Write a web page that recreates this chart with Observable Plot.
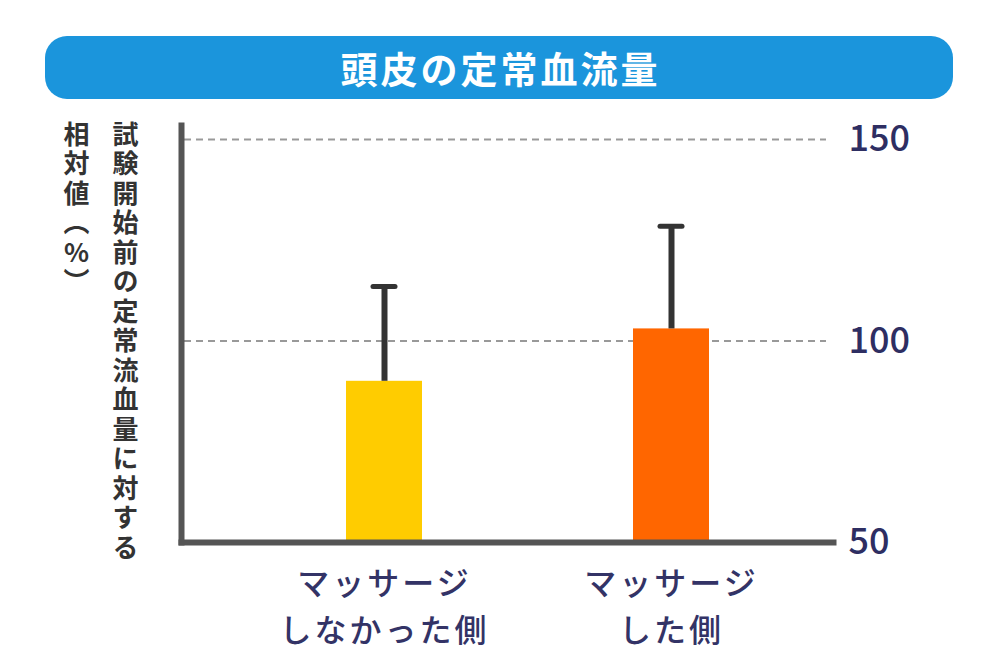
<!DOCTYPE html>
<html><head><meta charset="utf-8">
<script src="https://cdn.jsdelivr.net/npm/d3@7"></script>
<script src="https://cdn.jsdelivr.net/npm/@observablehq/plot@0.6"></script>
<style>
body{margin:0;background:#fff;}
#wrap{position:relative;width:1000px;height:667px;overflow:hidden;font-family:"Noto Sans CJK JP",sans-serif;}
#wrap svg{position:absolute;left:0;top:0;}
#title{position:absolute;left:45px;top:36px;width:908px;height:63px;border-radius:22px;background:#1b95dc;color:#fff;font-weight:700;font-size:37px;letter-spacing:3px;padding-left:3px;box-sizing:border-box;display:flex;align-items:center;justify-content:center;z-index:2;}
.ytitle{position:absolute;top:121px;writing-mode:vertical-rl;text-orientation:upright;font-weight:700;font-size:26px;letter-spacing:3.5px;color:#333;line-height:1;z-index:2;}
#yt1{left:63px;}
#yt2{left:112px;}
</style></head><body>
<div id="wrap">
<div id="title">頭皮の定常血流量</div>
<div class="ytitle" id="yt1">相対値（%）</div>
<div class="ytitle" id="yt2">試験開始前の定常流血量に対する</div>
</div>
<script>
const groups = ["マッサージ\nしなかった側", "マッサージ\nした側"];
const means = [90, 103];
const uppers = [113.5, 128.5];
const barColors = ["#ffcc00", "#ff6600"];
const yTicks = [50, 100, 150];
const gridValues = [100, 150];

const data = groups.map((g, i) => ({group: g, mean: means[i], upper: uppers[i], color: barColors[i]}));

const chart = Plot.plot({
  width: 1000, height: 667,
  marginLeft: 181, marginRight: 167, marginTop: 125, marginBottom: 125,
  style: {fontFamily: '"Noto Sans CJK JP", sans-serif', background: "transparent"},
  x: {domain: groups, range: [201, 853], paddingInner: 0.736, paddingOuter: 0.5, label: null},
  y: {domain: [50, 150], range: [542, 139], label: null},
  color: {type: "identity"},
  marks: [
    Plot.ruleY(gridValues, {stroke: "#999", strokeWidth: 2, strokeDasharray: "7,5", insetLeft: 3, insetRight: 7}),
    Plot.barY(data, {x: "group", y1: 50, y2: "mean", fill: d => d.color}),
    Plot.ruleX(data, {x: "group", y1: "mean", y2: "upper", stroke: "#333", strokeWidth: 6}),
    Plot.tickY(data, {x: "group", y: "upper", stroke: "#333", strokeWidth: 5, strokeLinecap: "round", insetLeft: 27, insetRight: 27}),
    Plot.axisY({anchor: "right", ticks: yTicks, tickSize: 0, tickPadding: 15, fontSize: 36, fontWeight: 500, color: "#2e2e62", label: null}),
    Plot.axisX({tickSize: 0, tickPadding: 20, fontSize: 32, fontWeight: 500, lineHeight: 1.45, color: "#333366", label: null}),
    Plot.frame({anchor: "left", stroke: "#555", strokeWidth: 6, strokeLinecap: "square"}),
    Plot.frame({anchor: "bottom", stroke: "#555", strokeWidth: 6, strokeLinecap: "square"})
  ]
});
d3.select(chart).selectAll('g[aria-label="x-axis tick label"] text').style("letter-spacing", "3px");
document.getElementById("wrap").appendChild(chart);
</script>
</body></html>
